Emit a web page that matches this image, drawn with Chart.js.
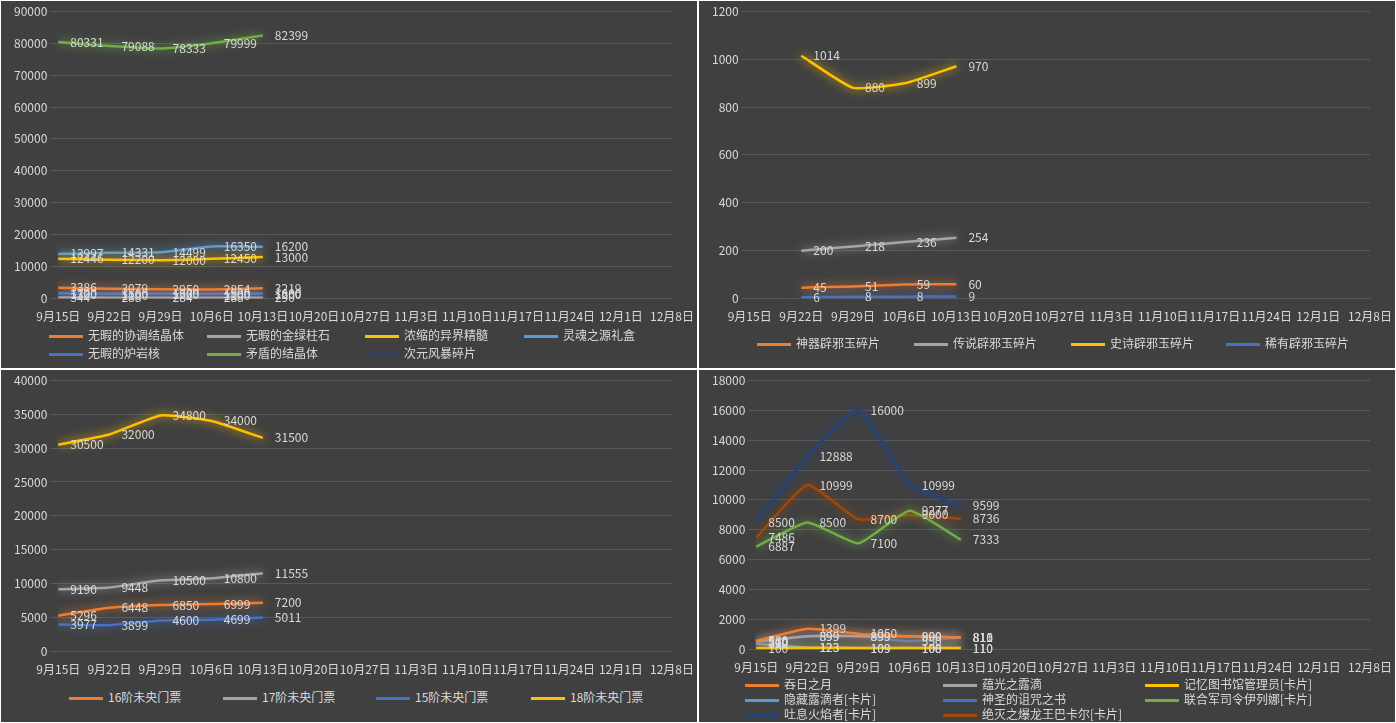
<!DOCTYPE html>
<html><head><meta charset="utf-8">
<script src="https://cdn.jsdelivr.net/npm/chart.js@4"></script>
<style>
body{margin:0;background:#fff;width:1396px;height:723px;overflow:hidden;font-family:"Noto Sans CJK SC";}
.p{position:absolute;background:#404040;overflow:hidden}
.lg{position:absolute;color:#d9d9d9;font-size:12px;white-space:nowrap;line-height:14px}
.lg i{display:inline-block;width:34px;height:3px;vertical-align:middle;margin-right:5px}
</style></head><body>
<div class="p" id="q1" style="left:1px;top:1px;width:696px;height:367px"><canvas id="c1"></canvas></div>
<div class="p" id="q2" style="left:699px;top:1px;width:696px;height:367px"><canvas id="c2"></canvas></div>
<div class="p" id="q3" style="left:1px;top:370px;width:696px;height:352px"><canvas id="c3"></canvas></div>
<div class="p" id="q4" style="left:699px;top:370px;width:696px;height:352px"><canvas id="c4"></canvas></div>
<script>
const categories=["9月15日","9月22日","9月29日","10月6日","10月13日","10月20日","10月27日","11月3日","11月10日","11月17日","11月24日","12月1日","12月8日"];
// panel 1
const p1Names=["无暇的协调结晶体","无暇的金绿柱石","浓缩的异界精髓","灵魂之源礼盒","无暇的炉岩核","矛盾的结晶体","次元风暴碎片"];
const p1A=[3386,3079,2950,2854,3219];
const p1B=[344,288,284,288,290];
const p1C=[12446,12200,12000,12450,13000];
const p1D=[13997,14331,14499,16350,16200];
const p1E=[1700,1500,1600,1500,1600];
const p1F=[80331,79088,78333,79999,82399];
const p1G=[1300,1100,1200,1100,1200];
// panel 2
const p2Names=["神器辟邪玉碎片","传说辟邪玉碎片","史诗辟邪玉碎片","稀有辟邪玉碎片"];
const p2A=[null,45,51,59,60];
const p2B=[null,200,218,236,254];
const p2C=[null,1014,880,899,970];
const p2D=[null,6,8,8,9];
// panel 3
const p3Names=["16阶未央门票","17阶未央门票","15阶未央门票","18阶未央门票"];
const p3A=[5296,6448,6850,6999,7200];
const p3B=[9190,9448,10500,10800,11555];
const p3C=[3977,3899,4600,4699,5011];
const p3D=[30500,32000,34800,34000,31500];
// panel 4
const p4Names=["吞日之月","蕴光之露滴","记忆图书馆管理员[卡片]","隐藏露滴者[卡片]","神圣的诅咒之书","联合军司令伊列娜[卡片]","吐息火焰者[卡片]","绝灭之爆龙王巴卡尔[卡片]"];
const p4A=[580,1399,1050,900,811];
const p4B=[540,899,899,890,816];
const p4C=[100,123,109,100,110];
const p4D=[390,123,109,108,110];
const p4E=[510,899,899,550,810];
const p4F=[6887,8500,7100,9277,7333];
const p4G=[8500,12888,16000,10999,9599];
const p4H=[7486,10999,8700,9000,8736];

const grid='#595959', txt='#d9d9d9';
Chart.defaults.font.family='"Noto Sans CJK SC"';
Chart.defaults.color=txt;
Chart.defaults.animation=false;

const labelPlugin={id:'lbl',afterDatasetsDraw(ch){const c=ch.ctx;c.save();c.font='12px "Noto Sans CJK SC"';c.fillStyle=txt;c.textBaseline='middle';
 ch.data.datasets.forEach((d,i)=>{const m=ch.getDatasetMeta(i);m.data.forEach((pt,j)=>{const v=d.data[j];if(v==null)return;c.fillText(String(v),pt.x+12,pt.y);});});c.restore();}};
const glowPlugin={id:'glow',beforeDatasetDraw(ch,a){const c=ch.ctx;c.save();c.shadowColor=ch.data.datasets[a.index].borderColor;c.shadowBlur=10;},afterDatasetDraw(ch){ch.ctx.restore();}};

function mk(id,names,arrs,colors,max,step,h,legPos){
 const el=document.getElementById(id);el.width=696;el.height=h;el.style.width='696px';el.style.height=h+'px';
 new Chart(el,{type:'line',data:{labels:categories,datasets:arrs.map((a,i)=>({label:names[i],data:a,borderColor:colors[i],backgroundColor:colors[i],borderWidth:2.5,pointRadius:0,tension:0.15}))},
 options:{responsive:false,devicePixelRatio:1,layout:{padding:{left:10,right:10,top:10,bottom:2}},
  plugins:{legend:{display:false},tooltip:{enabled:false}},
  scales:{x:{grid:{display:false},border:{color:grid},ticks:{color:txt,font:{size:12},maxRotation:0,autoSkip:false}},
   y:{min:0,max:max,ticks:{stepSize:step,color:txt,font:{size:12},callback:v=>String(v)},grid:{color:grid},border:{display:false}}}},
 plugins:[glowPlugin,labelPlugin]});
 const par=el.parentNode;
 names.forEach((n,i)=>{const d=document.createElement('div');d.className='lg';d.style.left=legPos[i][0]+'px';d.style.top=legPos[i][1]+'px';
  d.innerHTML='<i style="background:'+colors[i]+'"></i>'+n;par.appendChild(d);});
}
mk('c1',p1Names,[p1A,p1B,p1C,p1D,p1E,p1F,p1G],['#ed7d31','#a5a5a5','#ffc000','#5b9bd5','#4472c4','#70ad47','#264478'],90000,10000,328,
 [[48,327],[206,327],[364,327],[523,327],[48,345],[206,345],[364,345]]);
mk('c2',p2Names,[p2A,p2B,p2C,p2D],['#ed7d31','#a5a5a5','#ffc000','#4472c4'],1200,200,328,
 [[58,335],[215,335],[372,335],[527,335]]);
mk('c3',p3Names,[p3A,p3B,p3C,p3D],['#ed7d31','#a5a5a5','#4472c4','#ffc000'],40000,5000,312,
 [[68,320],[222,320],[375,320],[530,320]]);
mk('c4',p4Names,[p4A,p4B,p4C,p4D,p4E,p4F,p4G,p4H],['#ed7d31','#a5a5a5','#ffc000','#5b9bd5','#4472c4','#70ad47','#264478','#9e480e'],18000,2000,310,
 [[46,307],[244,307],[446,307],[46,322],[244,322],[446,322],[46,337],[244,337]]);
</script></body></html>
